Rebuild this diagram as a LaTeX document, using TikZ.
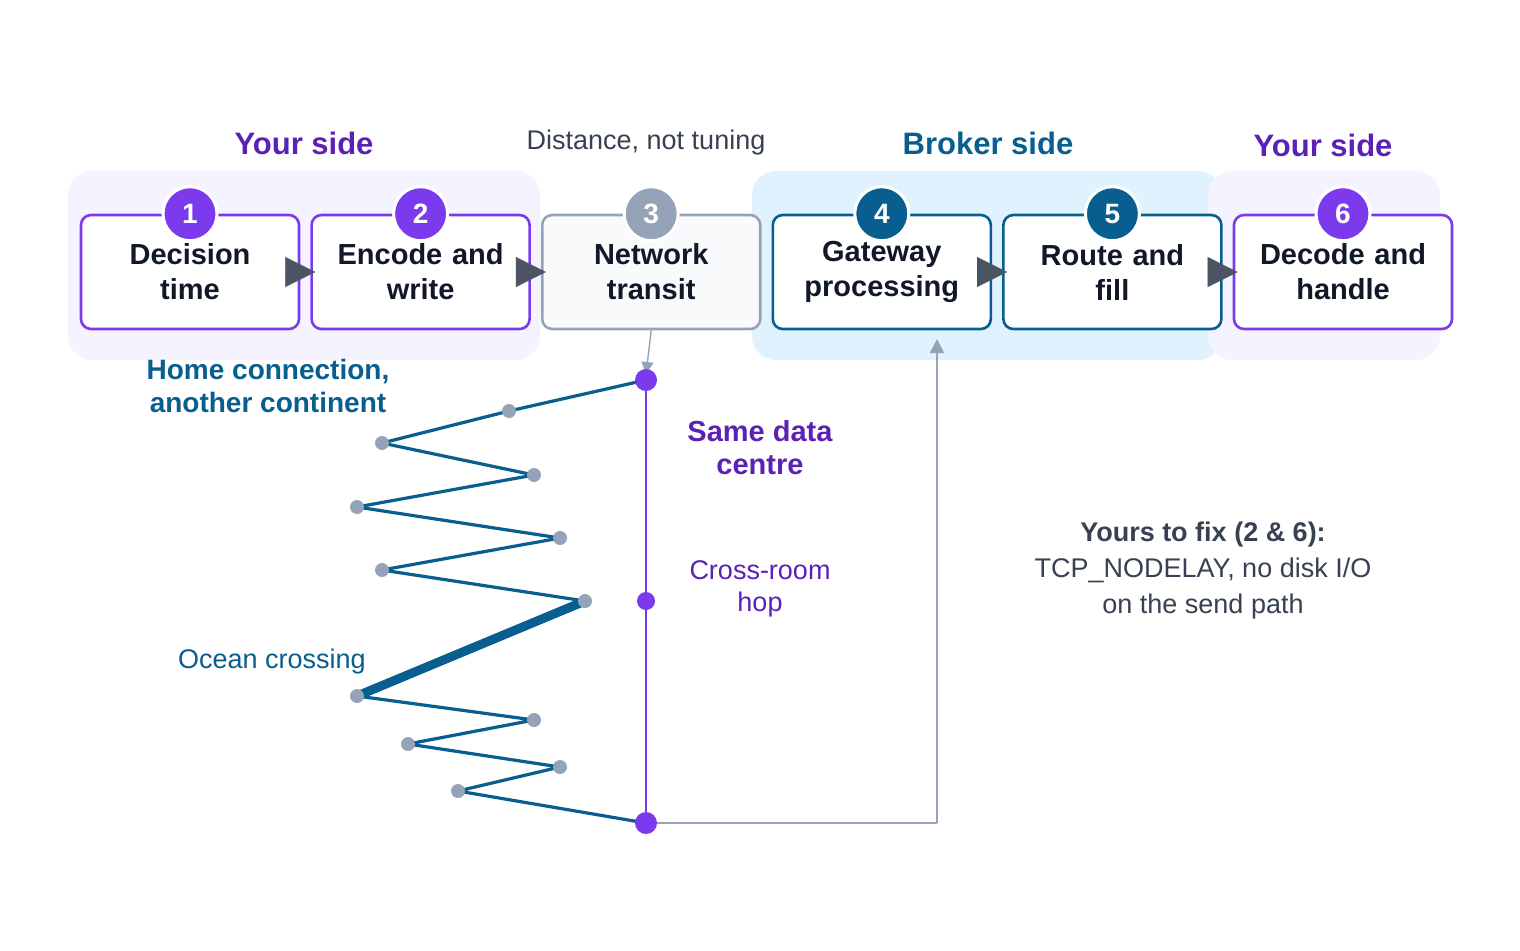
\documentclass[tikz,border=0pt]{standalone}
\usepackage{fontspec}
\setmainfont{Liberation Sans}
\usepackage{tikz}
\usetikzlibrary{arrows.meta, positioning}
\definecolor{vio}{HTML}{7C3AED}
\definecolor{viotext}{HTML}{5B21B6}
\definecolor{viobg}{HTML}{F5F3FF}
\definecolor{sea}{HTML}{075E8F}
\definecolor{seabg}{HTML}{E0F2FE}
\definecolor{slate}{HTML}{94A3B8}
\definecolor{slatebg}{HTML}{F8FAFC}
\definecolor{ink}{HTML}{111827}
\definecolor{tri}{HTML}{4B5563}
\definecolor{note}{HTML}{374151}
\tikzstyle{stage} = [rectangle, rounded corners=5pt, line width=1.3pt, inner sep=0pt, minimum width=109pt, minimum height=57pt, text width=109pt, align=center, font=\bfseries\fontsize{14.5}{17.5}\selectfont, text=ink, fill=white]
\tikzstyle{badge} = [circle, minimum size=27pt, inner sep=0pt, draw=white, line width=1.5pt, text=white, font=\bfseries\fontsize{14}{16}\selectfont]
\tikzstyle{flow} = [draw=tri, line width=0.1pt, -{Triangle[length=15pt,width=15pt,fill=tri]}]
\tikzstyle{hopdot} = [circle, fill=slate, minimum size=7pt, inner sep=0pt]
\tikzstyle{enddot} = [circle, fill=vio, minimum size=11pt, inner sep=0pt]
\tikzstyle{head} = [font=\bfseries\fontsize{15.5}{18}\selectfont]

\begin{document}
\begin{tikzpicture}[x=0.5pt, y=-0.5pt]
        \useasboundingbox (0,0) rectangle (1520,950);
        % zone backgrounds
        \fill[viobg, rounded corners=12pt] (68,171) rectangle (540,360);
        \fill[seabg, rounded corners=12pt] (752,171) rectangle (1222,360);
        \fill[viobg, rounded corners=12pt] (1208,171) rectangle (1440,360);

        \node (your-left) [head, text=viotext] at (304,143) {Your side};
        \node (distance) [font=\fontsize{13.5}{16}\selectfont, text=note] at (646,143) {Distance, not tuning};
        \node (broker) [head, text=sea] at (988,143) {Broker side};
        \node (your-right) [head, text=viotext] at (1323,145) {Your side};

        % stages
        \node (decision) [stage, draw=vio] at (190,272) {Decision\\time};
        \node (encode) [stage, draw=vio, right=5pt of decision] {Encode and\\write};
        \node (network) [stage, draw=slate, fill=slatebg, right=5pt of encode] {Network\\transit};
        \node (gateway) [stage, draw=sea, right=5pt of network] {Gateway\\processing};
        \node (route) [stage, draw=sea, right=5pt of gateway] {Route and\\fill};
        \node (decode) [stage, draw=vio, right=5pt of route] {Decode and\\handle};

        \node (n1) [badge, fill=vio] at (decision.north) {1};
        \node (n2) [badge, fill=vio] at (encode.north) {2};
        \node (n3) [badge, fill=slate] at (network.north) {3};
        \node (n4) [badge, fill=sea] at (gateway.north) {4};
        \node (n5) [badge, fill=sea] at (route.north) {5};
        \node (n6) [badge, fill=vio] at (decode.north) {6};

        \draw [flow] ([xshift=-7.5pt]decision.east) -- ([xshift=2.5pt]encode.west);
        \draw [flow] ([xshift=-7.5pt]encode.east) -- ([xshift=2.5pt]network.west);
        \draw [flow] ([xshift=-7.5pt]gateway.east) -- ([xshift=2.5pt]route.west);
        \draw [flow] ([xshift=-7.5pt]route.east) -- ([xshift=2.5pt]decode.west);

        % same data centre path
        \coordinate (top) at (646,380);
        \coordinate (mid) at (646,601);
        \coordinate (bottom) at (646,823);
        \coordinate (corner) at (937,823);
        \coordinate (back) at (937,339);
        \draw [slate, line width=0.7pt, -{Triangle[length=6pt,width=6pt]}] (network.south) -- ([yshift=3pt]top);
        \draw [slate, line width=0.8pt] (bottom) -- (corner);
        \draw [slate, line width=0.8pt, -{Triangle[length=7pt,width=7pt]}] (corner) -- (back);
        \draw [vio, line width=1.4pt] (top) -- (bottom);

        % long way round
        \foreach \i/\p in {1/{509,411},2/{382,443},3/{534,475},4/{357,507},5/{560,538},6/{382,570},7/{585,601},8/{357,696},9/{534,720},10/{408,744},11/{560,767},12/{458,791}}
            \coordinate (h\i) at (\p);
        \draw [sea, line width=1.6pt, line join=round] (top) -- (h1) -- (h2) -- (h3) -- (h4) -- (h5) -- (h6) -- (h7);
        \draw [sea, line width=4.5pt] (h7) -- (h8);
        \draw [sea, line width=1.6pt, line join=round] (h8) -- (h9) -- (h10) -- (h11) -- (h12) -- (bottom);
        \foreach \i in {1,...,12}
            \node [hopdot] at (h\i) {};
        \node [enddot] at (top) {};
        \node [enddot, minimum size=9pt] at (mid) {};
        \node [enddot] at (bottom) {};

        \node (home) [text=sea, align=center, font=\bfseries\fontsize{14}{16.5}\selectfont] at (268,386) {Home connection,\\another continent};
        \node (ocean) [text=sea, font=\fontsize{13.5}{16}\selectfont] at (272,662) {Ocean crossing};
        \node (same) [text=viotext, align=center, font=\bfseries\fontsize{14.5}{16.5}\selectfont] at (760,448) {Same data\\centre};
        \node (crossroom) [text=viotext, align=center, font=\fontsize{13.5}{16}\selectfont] at (760,589) {Cross-room\\hop};
        \node (fix) [text=note, align=center, font=\fontsize{13.5}{18}\selectfont] at (1203,571) {\textbf{Yours to fix (2 \& 6):}\\TCP\_NODELAY, no disk I/O\\on the send path};
    \end{tikzpicture}
\end{document}
